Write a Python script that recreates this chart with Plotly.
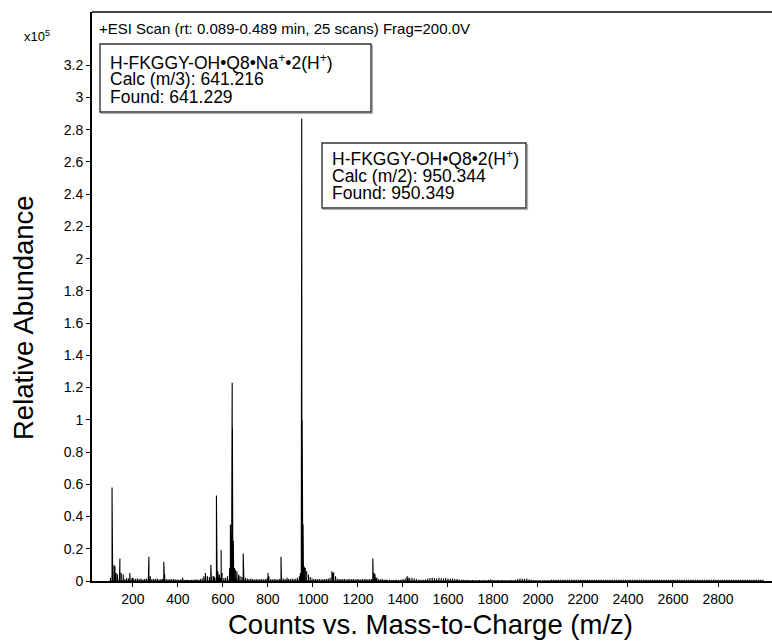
import plotly.graph_objects as go

# ---- data (m/z, intensity in units of 1e5 counts) ----
peak_mz = [107, 110, 116, 120, 125, 131, 142, 148, 157, 186, 200, 271, 277, 337, 341,
           421, 515, 522, 531, 546, 549, 560, 571, 574, 577, 584, 592, 596,
           630, 633, 636, 638, 641, 642, 643, 644, 646, 648, 651, 655, 662, 670,
           690, 693, 800, 804, 858, 885, 940, 944, 948, 949, 950, 951, 952, 953,
           955, 956, 958, 961, 966, 972, 980, 1084, 1088, 1092, 1266, 1268, 1272,
           1280, 1418, 1423]
peak_int = [0.58, 0.07, 0.10, 0.09, 0.05, 0.04, 0.14, 0.05, 0.04, 0.05, 0.02, 0.15, 0.03, 0.12, 0.04,
            0.02, 0.03, 0.05, 0.03, 0.10, 0.09, 0.03, 0.53, 0.17, 0.06, 0.04, 0.19, 0.05,
            0.08, 0.35, 0.30, 0.30, 1.23, 0.95, 0.48, 0.45, 0.25, 0.15, 0.08, 0.07, 0.06, 0.04,
            0.17, 0.05, 0.05, 0.03, 0.15, 0.02, 0.03, 0.05, 0.20, 1.20, 2.87, 2.00, 1.00, 0.50,
            0.61, 0.35, 0.10, 0.09, 0.08, 0.05, 0.03, 0.06, 0.05, 0.04, 0.14, 0.06, 0.05,
            0.02, 0.03, 0.02]

# baseline noise, band A: m/z 100..1324 every 8
noiseA_start, noiseA_step = 100, 8
noiseA = [0.02, 0.015, 0.03, 0.02, 0.025, 0.018, 0.02, 0.015, 0.012, 0.018,
          0.015, 0.012, 0.018, 0.01, 0.014, 0.016, 0.012, 0.015, 0.01, 0.013,
          0.015, 0.012, 0.016, 0.011, 0.014, 0.012, 0.015, 0.01, 0.013, 0.012,
          0.015, 0.012, 0.01, 0.013, 0.011, 0.012, 0.009, 0.01, 0.008, 0.009,
          0.008, 0.006, 0.007, 0.008, 0.006, 0.008, 0.007, 0.009, 0.01, 0.008,
          0.012, 0.015, 0.013, 0.02, 0.018, 0.025, 0.022, 0.03, 0.02, 0.025,
          0.03, 0.02, 0.025, 0.018, 0.02, 0.03, 0.035, 0.04, 0.06, 0.05,
          0.04, 0.035, 0.03, 0.025, 0.02, 0.018, 0.015, 0.012, 0.015, 0.012,
          0.01, 0.012, 0.01, 0.013, 0.011, 0.01, 0.012, 0.015, 0.02, 0.012,
          0.01, 0.012, 0.011, 0.01, 0.013, 0.012, 0.015, 0.012, 0.01, 0.012,
          0.012, 0.015, 0.013, 0.015, 0.02, 0.03, 0.05, 0.08, 0.07, 0.06,
          0.04, 0.025, 0.015, 0.012, 0.013, 0.011, 0.012, 0.01, 0.012, 0.011,
          0.012, 0.015, 0.02, 0.05, 0.055, 0.03, 0.015, 0.012, 0.011, 0.012,
          0.012, 0.01, 0.013, 0.012, 0.011, 0.012, 0.01, 0.012, 0.011, 0.01,
          0.012, 0.011, 0.013, 0.01, 0.012, 0.012, 0.03, 0.04, 0.02, 0.012,
          0.01, 0.012, 0.008, 0.01]
# band B: m/z 1330..2050 every 10
noiseB_start, noiseB_step = 1330, 10
noiseB = [0.006, 0.008, 0.006, 0.007, 0.008, 0.006, 0.008, 0.012, 0.015, 0.02,
          0.018, 0.02, 0.015, 0.012, 0.008, 0.007, 0.008, 0.01, 0.015, 0.018,
          0.02, 0.018, 0.016, 0.02, 0.017, 0.015, 0.018, 0.016, 0.014, 0.015,
          0.012, 0.013, 0.01, 0.008, 0.007, 0.006, 0.006, 0.005, 0.006, 0.005,
          0.005, 0.006, 0.005, 0.006, 0.005, 0.008, 0.01, 0.006, 0.005, 0.006,
          0.005, 0.006, 0.005, 0.004, 0.005, 0.006, 0.005, 0.008, 0.012, 0.015,
          0.014, 0.012, 0.015, 0.01, 0.008, 0.006, 0.005, 0.005, 0.004, 0.005,
          0.004, 0.005, 0.004]
# band C: m/z 2060..3000 every 10
noiseC_start, noiseC_step = 2060, 10
noiseC = [0.007, 0.008, 0.007, 0.008, 0.007, 0.007, 0.008, 0.007, 0.008, 0.007,
          0.007, 0.008, 0.007, 0.007, 0.008, 0.007, 0.008, 0.007, 0.007, 0.008,
          0.007, 0.008, 0.007, 0.007, 0.008, 0.007, 0.007, 0.008, 0.007, 0.008,
          0.007, 0.007, 0.008, 0.007, 0.007, 0.008, 0.007, 0.008, 0.007, 0.007,
          0.008, 0.007, 0.007, 0.008, 0.007, 0.008, 0.007, 0.007, 0.008, 0.007,
          0.007, 0.008, 0.007, 0.007, 0.008, 0.007, 0.008, 0.007, 0.007, 0.008,
          0.007, 0.008, 0.007, 0.007, 0.008, 0.007, 0.007, 0.008, 0.007, 0.008,
          0.007, 0.007, 0.008, 0.007, 0.007, 0.008, 0.007, 0.008, 0.007, 0.007,
          0.008, 0.007, 0.007, 0.008, 0.007, 0.008, 0.007, 0.007, 0.008, 0.007,
          0.007, 0.008, 0.007, 0.007, 0.008]

x_ticks = [200, 400, 600, 800, 1000, 1200, 1400, 1600, 1800, 2000, 2200, 2400, 2600, 2800]
y_ticks = [0, 0.2, 0.4, 0.6, 0.8, 1, 1.2, 1.4, 1.6, 1.8, 2, 2.2, 2.4, 2.6, 2.8, 3, 3.2]
y_ticktext = ["0", "0.2", "0.4", "0.6", "0.8", "1", "1.2", "1.4", "1.6", "1.8", "2",
              "2.2", "2.4", "2.6", "2.8", "3", "3.2"]

header = "+ESI Scan (rt: 0.089-0.489 min, 25 scans) Frag=200.0V"
label1 = ["H-FKGGY-OH•Q8•Na<sup>+</sup>•2(H<sup>+</sup>)", "Calc (m/3): 641.216", "Found: 641.229"]
label2 = ["H-FKGGY-OH•Q8•2(H<sup>+</sup>)", "Calc (m/2): 950.344", "Found: 950.349"]

# ---- assemble stick profile ----
pts = list(zip(peak_mz, peak_int))
pts += [(noiseA_start + i * noiseA_step, v) for i, v in enumerate(noiseA)]
pts += [(noiseB_start + i * noiseB_step, v) for i, v in enumerate(noiseB)]
pts += [(noiseC_start + i * noiseC_step, v) for i, v in enumerate(noiseC)]
pts.sort()
xs, ys = [], []
for m, v in pts:
    xs += [m, m, m]
    ys += [0, v, 0]

W, H = 772, 641
L, R, T, B = 92, 0, 12, 60
pw, ph = W - L - R, H - T - B

def px(xp):
    return (xp - L) / pw

def py(yp):
    return 1 - (yp - T) / ph

FONT = "Arial, 'Liberation Sans', sans-serif"

fig = go.Figure()
fig.add_trace(go.Scatter(x=xs, y=ys, mode="lines",
                         line=dict(color="black", width=1.1), hoverinfo="skip",
                         showlegend=False))

fig.update_layout(
    width=W, height=H, autosize=False,
    margin=dict(l=L, r=R, t=T, b=B, pad=0),
    paper_bgcolor="white", plot_bgcolor="white",
    font=dict(family=FONT, color="black"),
    xaxis=dict(range=[18, 3040], showgrid=False, zeroline=False,
               showline=True, linecolor="black", linewidth=1.5,
               ticks="outside", ticklen=4, tickcolor="black",
               tickvals=x_ticks, tickfont=dict(size=14, family=FONT)),
    yaxis=dict(range=[0, 3.53], showgrid=False, zeroline=False,
               showline=True, linecolor="black", linewidth=1.8,
               ticks="outside", ticklen=4, tickcolor="black",
               tickvals=y_ticks, ticktext=y_ticktext,
               tickfont=dict(size=14, family=FONT)),
)

# top frame line
fig.add_shape(type="line", xref="paper", yref="paper", x0=0, x1=1, y0=1, y1=1,
              line=dict(color="#444444", width=2))

# label boxes (pixel rectangles converted to paper coordinates)
for (x0, y0, x1, y1) in [(100, 44, 371, 112), (322, 143, 526, 208)]:
    fig.add_shape(type="rect", xref="paper", yref="paper",
                  x0=px(x0 + 1.5), x1=px(x1 + 1.5), y0=py(y0 + 1.5), y1=py(y1 + 1.5),
                  line=dict(color="#b0b0b0", width=1.2), fillcolor="rgba(0,0,0,0)")
    fig.add_shape(type="rect", xref="paper", yref="paper",
                  x0=px(x0), x1=px(x1), y0=py(y0), y1=py(y1),
                  line=dict(color="#333333", width=1.4), fillcolor="white")

ann = []
ann.append(dict(text=header, xref="paper", yref="paper", x=px(97), y=py(28),
                xanchor="left", yanchor="middle", showarrow=False,
                font=dict(size=15, family=FONT)))
ann.append(dict(text="x10<sup>5</sup>", xref="paper", yref="paper", x=px(22), y=py(36),
                xanchor="left", yanchor="middle", showarrow=False,
                font=dict(size=13, family=FONT)))
for lines, x0, ycs in [(label1, 108, [62, 79.5, 97]), (label2, 330, [158, 175.5, 193])]:
    for t, yc in zip(lines, ycs):
        ann.append(dict(text=t, xref="paper", yref="paper", x=px(x0), y=py(yc),
                        xanchor="left", yanchor="middle", showarrow=False,
                        font=dict(size=17.5, family=FONT)))
ann.append(dict(text="Relative Abundance", xref="paper", yref="paper", x=px(23), y=py(318),
                xanchor="center", yanchor="middle", showarrow=False, textangle=-90,
                font=dict(size=27.5, family=FONT)))
ann.append(dict(text="Counts vs. Mass-to-Charge (m/z)", xref="paper", yref="paper",
                x=px(430), y=py(624), xanchor="center", yanchor="middle", showarrow=False,
                font=dict(size=27.5, family=FONT)))
fig.update_layout(annotations=ann)

fig.write_html("out.html")
